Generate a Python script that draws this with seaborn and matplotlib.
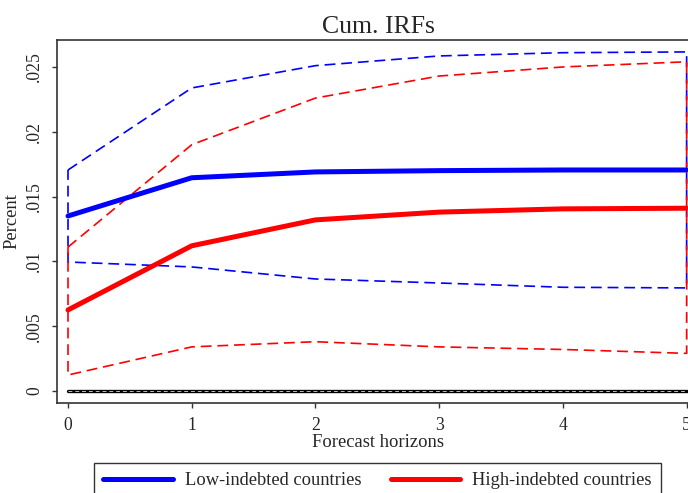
import numpy as np
import pandas as pd
import matplotlib
matplotlib.use("Agg")
import matplotlib.pyplot as plt
import seaborn as sns
from matplotlib.ticker import FuncFormatter

# horizontes e IRFs acumuladas
horizons = [0, 1, 2, 3, 4, 5]

low_mean = [0.0135, 0.01645, 0.0169, 0.0170, 0.01705, 0.01705]
low_upper = [0.01705, 0.02338, 0.0251, 0.02585, 0.0261, 0.02616]
low_lower = [0.00995, 0.00957, 0.00864, 0.00833, 0.0080, 0.00795]

high_mean = [0.00625, 0.0112, 0.0132, 0.0138, 0.01405, 0.0141]
high_upper = [0.0111, 0.0190, 0.0226, 0.0243, 0.0250, 0.0254]
high_lower = [0.00123, 0.0034, 0.0038, 0.0034, 0.0032, 0.0029]

y_ticks = [0, 0.005, 0.01, 0.015, 0.02, 0.025]

sns.set_style("white")
plt.rcParams["font.family"] = ["Liberation Serif", "DejaVu Serif"]


def band_outline(upper, lower):
    """Contorno fechado da banda (superior -> inferior -> volta ao início)."""
    xs = horizons + horizons[::-1] + [horizons[0]]
    ys = list(upper) + list(lower)[::-1] + [upper[0]]
    return pd.DataFrame({"x": xs, "y": ys})


fig = plt.figure(figsize=(6.88, 4.93), dpi=100)
ax = fig.add_axes([57 / 688, 1 - 403 / 493, 642 / 688, 363 / 493])

dash = (0, (6.5, 3.5))
for upper, lower, color in [(low_upper, low_lower, "#0000ff"),
                            (high_upper, high_lower, "#ff0000")]:
    sns.lineplot(data=band_outline(upper, lower), x="x", y="y", sort=False,
                 estimator=None, color=color, lw=1.2, linestyle=dash, ax=ax)

# linha do zero
zero = pd.DataFrame({"x": horizons, "y": [0] * len(horizons)})
sns.lineplot(data=zero, x="x", y="y", color="black", lw=2.4, ax=ax)
sns.lineplot(data=zero, x="x", y="y", color="#bbbbbb", lw=0.7,
             linestyle=(0, (4, 3)), ax=ax)

means = pd.DataFrame({
    "h": horizons * 2,
    "irf": low_mean + high_mean,
    "group": ["Low-indebted countries"] * 6 + ["High-indebted countries"] * 6,
})
sns.lineplot(data=means, x="h", y="irf", hue="group",
             palette={"Low-indebted countries": "#0000ff",
                      "High-indebted countries": "#ff0000"},
             lw=3.6, ax=ax, legend=False)

ax.set_xlim(-0.089, 5.1)
ax.set_ylim(-0.00093, 0.02708)
ax.set_xticks(horizons)
ax.set_yticks(y_ticks)
ax.yaxis.set_major_formatter(FuncFormatter(
    lambda v, p: "0" if v == 0 else f"{v:g}".replace("0.", ".", 1)))
ax.tick_params(axis="both", direction="out", length=3.6, width=1,
               color="#333333", labelsize=12.7, left=True, bottom=True)
ax.tick_params(axis="x", pad=6.5)
ax.tick_params(axis="y", pad=6.5)
for lab in ax.get_yticklabels():
    lab.set_rotation(90)
    lab.set_va("center")

for side in ["left", "bottom", "top", "right"]:
    ax.spines[side].set_color("#333333")
    ax.spines[side].set_linewidth(1.2)

ax.set_title("Cum. IRFs", fontsize=18.5, pad=5)
ax.set_xlabel("Forecast horizons", fontsize=13.4, labelpad=0)
ax.set_ylabel("Percent", fontsize=13.4, labelpad=4)

handles = [plt.Line2D([], [], color="#0000ff", lw=3.6),
           plt.Line2D([], [], color="#ff0000", lw=3.6)]
leg = fig.legend(handles, ["Low-indebted countries", "High-indebted countries"],
                 ncol=2, loc="upper left",
                 bbox_to_anchor=(94 / 688, 1 - 463 / 493),
                 borderaxespad=0, fontsize=13.3, fancybox=False,
                 edgecolor="#333333", framealpha=1, handlelength=3.75,
                 borderpad=0.5, handletextpad=0.65, columnspacing=1.6)
leg.get_frame().set_linewidth(1.0)

fig.savefig("out.png", dpi=100)
